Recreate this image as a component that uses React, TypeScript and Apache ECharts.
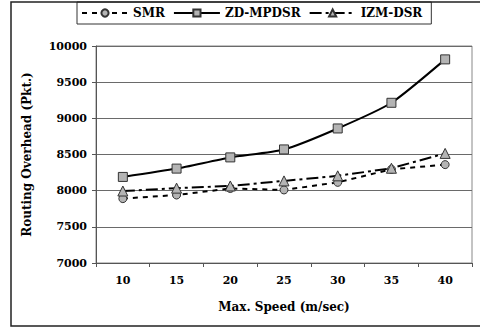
import React, { useEffect, useRef } from "react";
import * as echarts from "echarts";

const categories = ["10", "15", "20", "25", "30", "35", "40"];
const smr = [7890, 7940, 8030, 8010, 8115, 8295, 8360];
const zdmpdsr = [8190, 8305, 8460, 8570, 8860, 9215, 9815];
const izmdsr = [7995, 8035, 8065, 8135, 8205, 8310, 8515];
const yTicks = { min: 7000, max: 10000, interval: 500 };

const FONT = "'DejaVu Serif', 'Liberation Serif', serif";

export default function App() {
  const ref = useRef<HTMLDivElement>(null);
  useEffect(() => {
    if (!ref.current) return;
    const chart = echarts.init(ref.current, null, { renderer: "svg" });
    const marker = { color: "#b4b4b4", borderColor: "#333", borderWidth: 1 };
    chart.setOption({
      animation: false,
      backgroundColor: "#fff",
      textStyle: { fontFamily: FONT },
      graphic: [
        {
          type: "rect",
          shape: { x: 11, y: 2, width: 480, height: 324 },
          style: { fill: "none", stroke: "#222", lineWidth: 1.5 },
          z: 100,
          silent: true,
        },
      ],
      legend: {
        left: 77,
        top: 2,
        padding: [5, 9, 5, 4],
        itemGap: 8,
        itemWidth: 46,
        itemHeight: 9,
        backgroundColor: "#fff",
        borderColor: "#333",
        borderWidth: 1,
        textStyle: { fontFamily: FONT, fontWeight: "bold", fontSize: 12, color: "#000" },
        data: ["SMR", "ZD-MPDSR", "IZM-DSR"],
      },
      grid: {
        left: 96,
        right: 8,
        top: 46,
        bottom: 65,
        show: true,
        borderColor: "#888",
        borderWidth: 1,
      },
      xAxis: {
        type: "category",
        data: categories,
        boundaryGap: true,
        name: "Max. Speed (m/sec)",
        nameLocation: "middle",
        nameGap: 38,
        nameTextStyle: { fontFamily: FONT, fontWeight: "bold", fontSize: 12, color: "#000" },
        axisLine: { lineStyle: { color: "#555", width: 1 } },
        axisTick: { show: true, length: 4, lineStyle: { color: "#555" } },
        axisLabel: { fontFamily: FONT, fontWeight: "bold", fontSize: 11, color: "#000", margin: 12 },
      },
      yAxis: {
        type: "value",
        min: yTicks.min,
        max: yTicks.max,
        interval: yTicks.interval,
        name: "Routing Overhead (Pkt.)",
        nameLocation: "middle",
        nameGap: 63,
        nameTextStyle: { fontFamily: FONT, fontWeight: "bold", fontSize: 12, color: "#000" },
        axisLine: { show: true, lineStyle: { color: "#555", width: 1 } },
        axisTick: { show: true, length: 4, lineStyle: { color: "#555" } },
        splitLine: { lineStyle: { color: "#6a6a6a", width: 1 } },
        axisLabel: {
          fontFamily: FONT,
          fontWeight: "bold",
          fontSize: 11,
          color: "#000",
          margin: 9,
          formatter: (v: number) => String(v),
        },
      },
      series: [
        {
          name: "SMR",
          type: "line",
          data: smr,
          symbol: "circle",
          symbolSize: 8,
          itemStyle: marker,
          lineStyle: { color: "#000", width: 2, type: [5, 5] },
        },
        {
          name: "ZD-MPDSR",
          type: "line",
          data: zdmpdsr,
          symbol: "rect",
          symbolSize: 9,
          smooth: 0.2,
          itemStyle: marker,
          lineStyle: { color: "#000", width: 2 },
        },
        {
          name: "IZM-DSR",
          type: "line",
          data: izmdsr,
          symbol: "triangle",
          symbolSize: 10,
          itemStyle: marker,
          lineStyle: { color: "#000", width: 2, type: [12, 4, 3, 4] },
        },
      ],
    });
    return () => chart.dispose();
  }, []);
  return (
    <div
      ref={ref}
      style={{ width: 480, height: 328, position: "absolute", left: 0, top: 0 }}
    />
  );
}
